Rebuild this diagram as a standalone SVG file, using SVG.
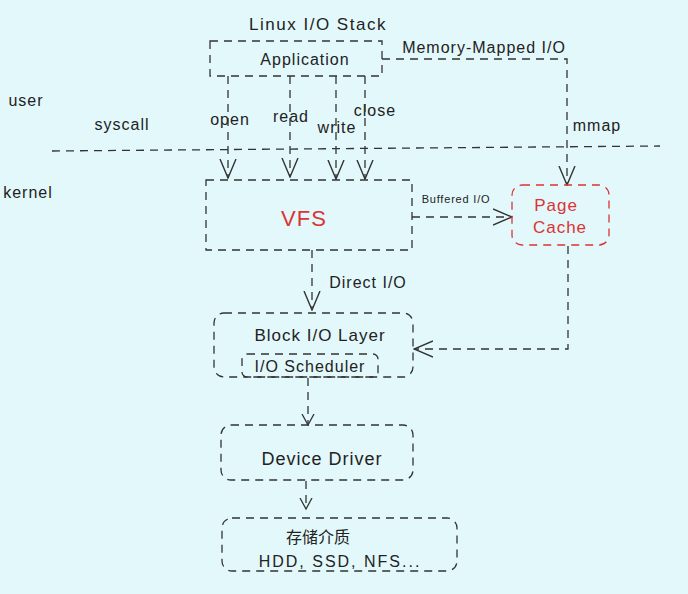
<svg xmlns="http://www.w3.org/2000/svg" width="688" height="594" viewBox="0 0 688 594">
<defs>
<marker id="arr" viewBox="0 0 12 14" refX="11" refY="7" markerWidth="12" markerHeight="14" markerUnits="userSpaceOnUse" orient="auto">
<path d="M0,1 L11,7 L0,13" fill="none" stroke="#333" stroke-width="1.3"/>
</marker>
<marker id="arrBig" viewBox="0 0 20 20" refX="19" refY="10" markerWidth="20" markerHeight="20" markerUnits="userSpaceOnUse" orient="auto">
<path d="M0,2 L19,10 L0,18" fill="none" stroke="#333" stroke-width="1.4"/>
</marker>
</defs>
<style>
.bg{fill:#e2f8fb}
.box{fill:none;stroke:#333;stroke-width:1.3;stroke-dasharray:8 6}
.red{fill:none;stroke:#d33;stroke-width:1.3;stroke-dasharray:8 6}
.ln{fill:none;stroke:#333;stroke-width:1.3;stroke-dasharray:8 6}
.t{font-family:"Liberation Sans",Arial,sans-serif;font-size:16px;letter-spacing:1px;fill:#222;text-anchor:middle;dominant-baseline:central}
.s{font-size:16px}
.xs{font-size:11px;letter-spacing:0.8px}
.rt{fill:#d33}
.cjk{font-family:"Noto Sans CJK SC",sans-serif;letter-spacing:0}
</style>
<rect class="bg" x="0" y="0" width="688" height="594"/>
<g id="labels">
<text class="t" x="318" y="24" style="font-size:17px;letter-spacing:1.5px">Linux I/O Stack</text>
<text class="t s" x="26" y="100">user</text>
<text class="t s" x="122" y="124">syscall</text>
<text class="t s" x="28" y="192">kernel</text>
<text class="t s" x="484" y="47">Memory-Mapped I/O</text>
<text class="t s" x="597" y="125">mmap</text>
<text class="t s" x="230" y="119">open</text>
<text class="t s" x="291" y="116">read</text>
<text class="t s" x="337" y="127">write</text>
<text class="t s" x="375" y="110">close</text>
<text class="t xs" x="456" y="199">Buffered I/O</text>
<text class="t s" x="368" y="282">Direct I/O</text>
</g>
<g id="divider">
<line class="ln" x1="52" y1="151" x2="660" y2="146"/>
</g>
<g id="connectors">
<path class="ln" d="M228,76 V178" marker-end="url(#arrBig)"/>
<path class="ln" d="M290,76 V177" marker-end="url(#arrBig)"/>
<path class="ln" d="M336,76 V179" marker-end="url(#arrBig)"/>
<path class="ln" d="M365,76 V179" marker-end="url(#arrBig)"/>
<path class="ln" d="M382,59 H567 V185" marker-end="url(#arrBig)"/>
<path class="ln" d="M412,217 H512" marker-end="url(#arrBig)"/>
<path class="ln" d="M312,250 V310" marker-end="url(#arrBig)"/>
<path class="ln" d="M568,246 V349 H414" marker-end="url(#arrBig)"/>
<path class="ln" d="M308,378 V425" marker-end="url(#arr)"/>
<path class="ln" d="M306,481 V509" marker-end="url(#arr)"/>
</g>
<g id="application">
<rect class="box" x="210" y="41" width="172" height="35"/>
<text class="t s" x="305" y="59">Application</text>
</g>
<g id="vfs">
<rect class="box" x="206" y="180" width="206" height="70"/>
<text class="t rt" x="304" y="218" style="font-size:22px">VFS</text>
</g>
<g id="pagecache">
<rect class="red" x="512" y="185" width="97" height="60" rx="10"/>
<text class="t rt" x="556" y="205" style="font-size:17px">Page</text>
<text class="t rt" x="560" y="227" style="font-size:17px">Cache</text>
</g>
<g id="blockio">
<rect class="box" x="214" y="313" width="199" height="64" rx="10"/>
<text class="t" x="320" y="335" style="font-size:17px">Block I/O Layer</text>
<rect class="box" x="242" y="354" width="136" height="23" rx="5"/>
<text class="t s" x="310" y="366">I/O Scheduler</text>
</g>
<g id="driver">
<rect class="box" x="221" y="425" width="192" height="55" rx="10"/>
<text class="t" x="322" y="459" style="font-size:18px">Device Driver</text>
</g>
<g id="storage">
<rect class="box" x="222" y="518" width="235" height="53" rx="10"/>
<text class="t s cjk" x="318" y="536">存储介质</text>
<text class="t s" x="340" y="561" style="letter-spacing:2px">HDD, SSD, NFS...</text>
</g>
</svg>
